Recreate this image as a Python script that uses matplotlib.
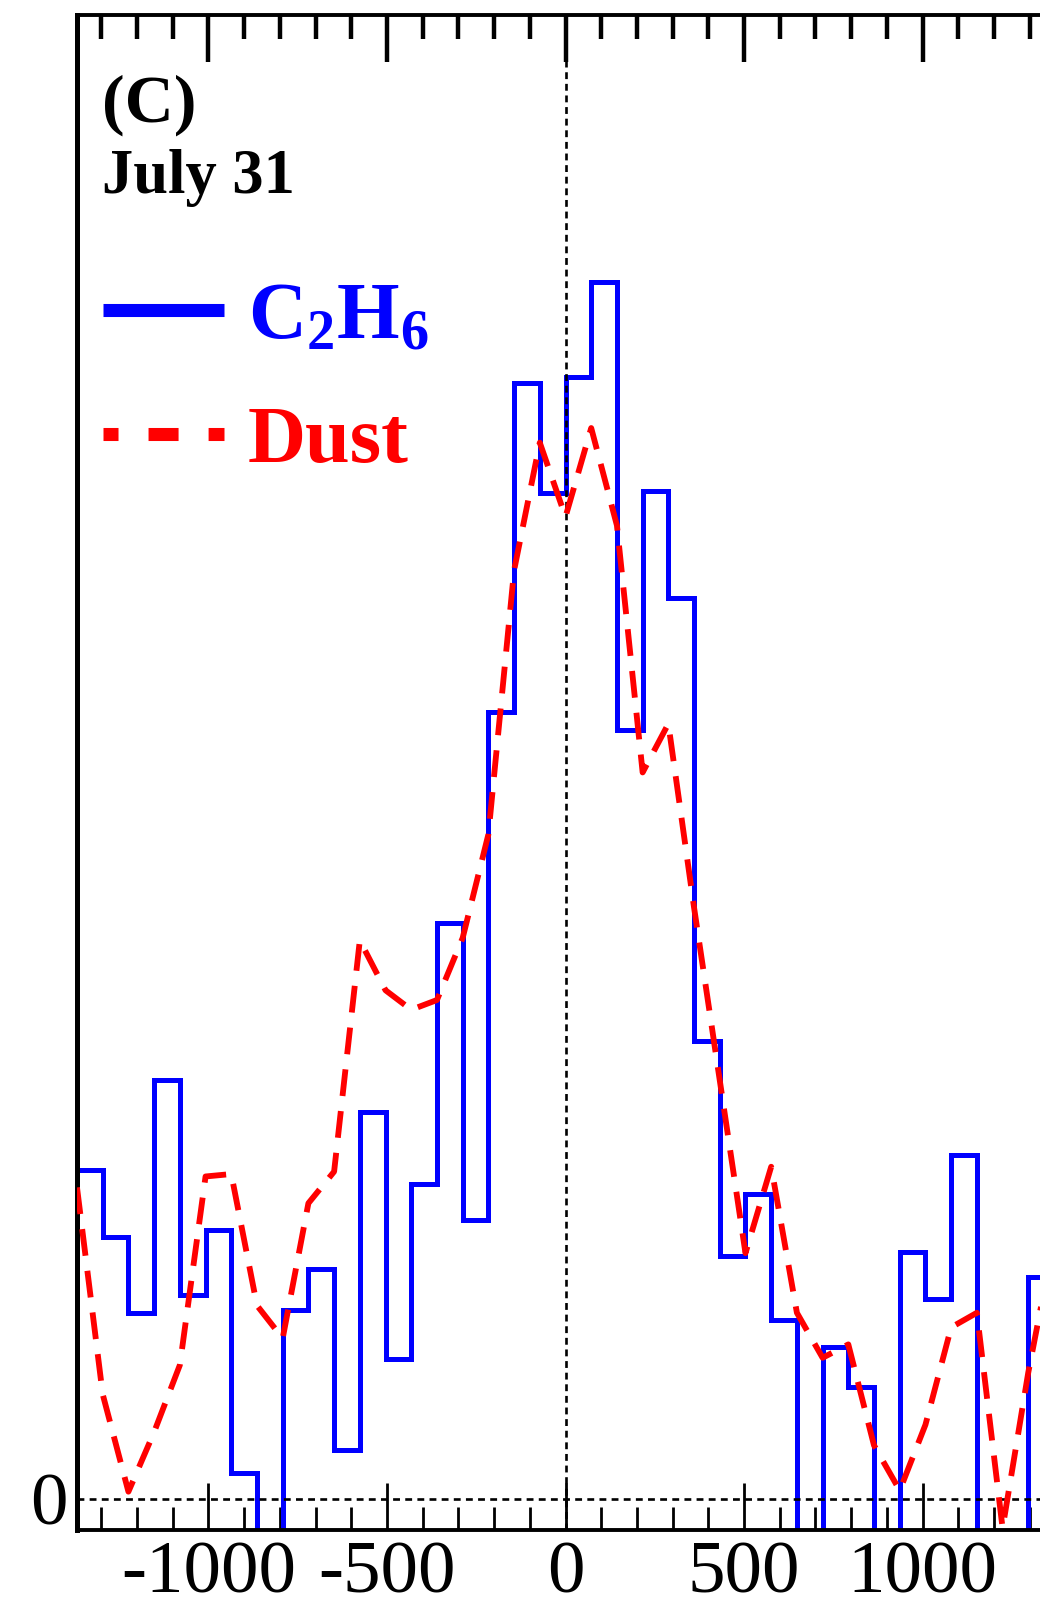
import matplotlib
matplotlib.use("Agg")
import matplotlib.pyplot as plt
import numpy as np
from matplotlib.lines import Line2D

# velocity channels (edges), regular grid of 72 units
CHANNEL_WIDTH = 72
VEL_EDGES = np.arange(-19, 20) * CHANNEL_WIDTH

# C2H6 histogram, one value per channel (relative units, peak = 1)
C2H6 = [0.270, 0.215, 0.153, 0.344, 0.168, 0.221, 0.021, -0.100, 0.155, 0.189,
        0.040, 0.318, 0.115, 0.259, 0.473, 0.229, 0.647, 0.917, 0.827, 0.922,
        1.000, 0.632, 0.828, 0.740, 0.376, 0.200, 0.251, 0.147, -0.100, 0.125,
        0.092, -0.100, 0.203, 0.164, 0.283, -0.100, -0.100, 0.182]

# dust profile sampled at the channel edges
DUST = [0.256, 0.086, 0.006, 0.055, 0.110, 0.265, 0.267, 0.159, 0.132, 0.243,
        0.269, 0.459, 0.418, 0.402, 0.410, 0.461, 0.546, 0.763, 0.868, 0.807,
        0.880, 0.800, 0.597, 0.637, 0.486, 0.344, 0.202, 0.273, 0.153, 0.116,
        0.127, 0.044, 0.007, 0.061, 0.141, 0.153, -0.024, 0.104, 0.213]

XTICKS = [-1000, -500, 0, 500, 1000]
XTICK_LABELS = ["-1000", "-500", "0", "500", "1000"]
PANEL = "(C)"
DATE = "July 31"

W, H = 1040, 1605
plt.rcParams["font.family"] = "Liberation Serif"
plt.rcParams["mathtext.fontset"] = "custom"
plt.rcParams["mathtext.bf"] = "Liberation Serif:bold"
plt.rcParams["mathtext.rm"] = "Liberation Serif"

fig = plt.figure(figsize=(W / 100, H / 100), dpi=100)
# axes runs past the right edge of the canvas, like the reference crop
ax = fig.add_axes([77 / W, 1 - 1530 / H, 977 / W, 1515 / H])
ax.set_xlim(VEL_EDGES[0], VEL_EDGES[-1])
ax.set_ylim(-0.0255, 1.2194)

ax.stairs(C2H6, VEL_EDGES, baseline=None, color="#0000ff", lw=3.6,
          joinstyle="miter", zorder=2)
ax.axhline(0, color="black", lw=1.9, linestyle=(0, (2.6, 2.0)), zorder=3)
ax.axvline(0, color="black", lw=1.9, linestyle=(0, (2.6, 1.8)), zorder=3)
ax.plot(VEL_EDGES, DUST, color="#ff0000", lw=4.2, dashes=(4.6, 2.6), zorder=4)

for side in ["top", "bottom", "right"]:
    ax.spines[side].set_linewidth(2.8)
ax.spines["left"].set_linewidth(3.6)

ax.set_xticks(XTICKS)
ax.set_xticklabels(XTICK_LABELS)
ax.set_xticks(np.arange(-1300, 1400, 100), minor=True)
ax.tick_params(axis="x", which="major", direction="in", length=34, width=2.0,
               labelsize=54, pad=8)
ax.tick_params(axis="x", which="minor", direction="in", length=16.5, width=2.0)
ax.set_yticks([0])
ax.set_yticklabels(["0"])
ax.tick_params(axis="y", length=0, labelsize=54, pad=7)

top = ax.twiny()
top.set_xlim(ax.get_xlim())
top.set_xticks(XTICKS)
top.set_xticks(np.arange(-1300, 1400, 100), minor=True)
top.tick_params(axis="x", which="major", direction="in", length=34, width=3.2,
                labeltop=False)
top.tick_params(axis="x", which="minor", direction="in", length=17, width=3.2)
for sp in top.spines.values():
    sp.set_visible(False)

fig.text(102 / W, 1 - 122 / H, PANEL, fontsize=49, fontweight="bold",
         va="baseline", ha="left")
fig.text(102 / W, 1 - 193 / H, DATE, fontsize=45, fontweight="bold",
         va="baseline", ha="left")

handles = [
    Line2D([], [], color="#0000ff", lw=9.4, solid_capstyle="butt"),
    Line2D([], [], color="#ff0000", lw=9.4, linestyle=(1.15, (2.3, 2.3)),
           dash_capstyle="butt"),
]
labels = [r"$\mathbf{C_2H_6}$", "Dust"]
ax.legend(handles, labels, loc="upper left",
          bbox_to_anchor=(103 / W, 1 - 282 / H), bbox_transform=fig.transFigure,
          frameon=False, prop={"weight": "bold", "size": 58},
          handlelength=1.5, handletextpad=0.3, labelspacing=0.62,
          borderpad=0, borderaxespad=0, labelcolor="linecolor")

fig.savefig("out.png", dpi=100)
